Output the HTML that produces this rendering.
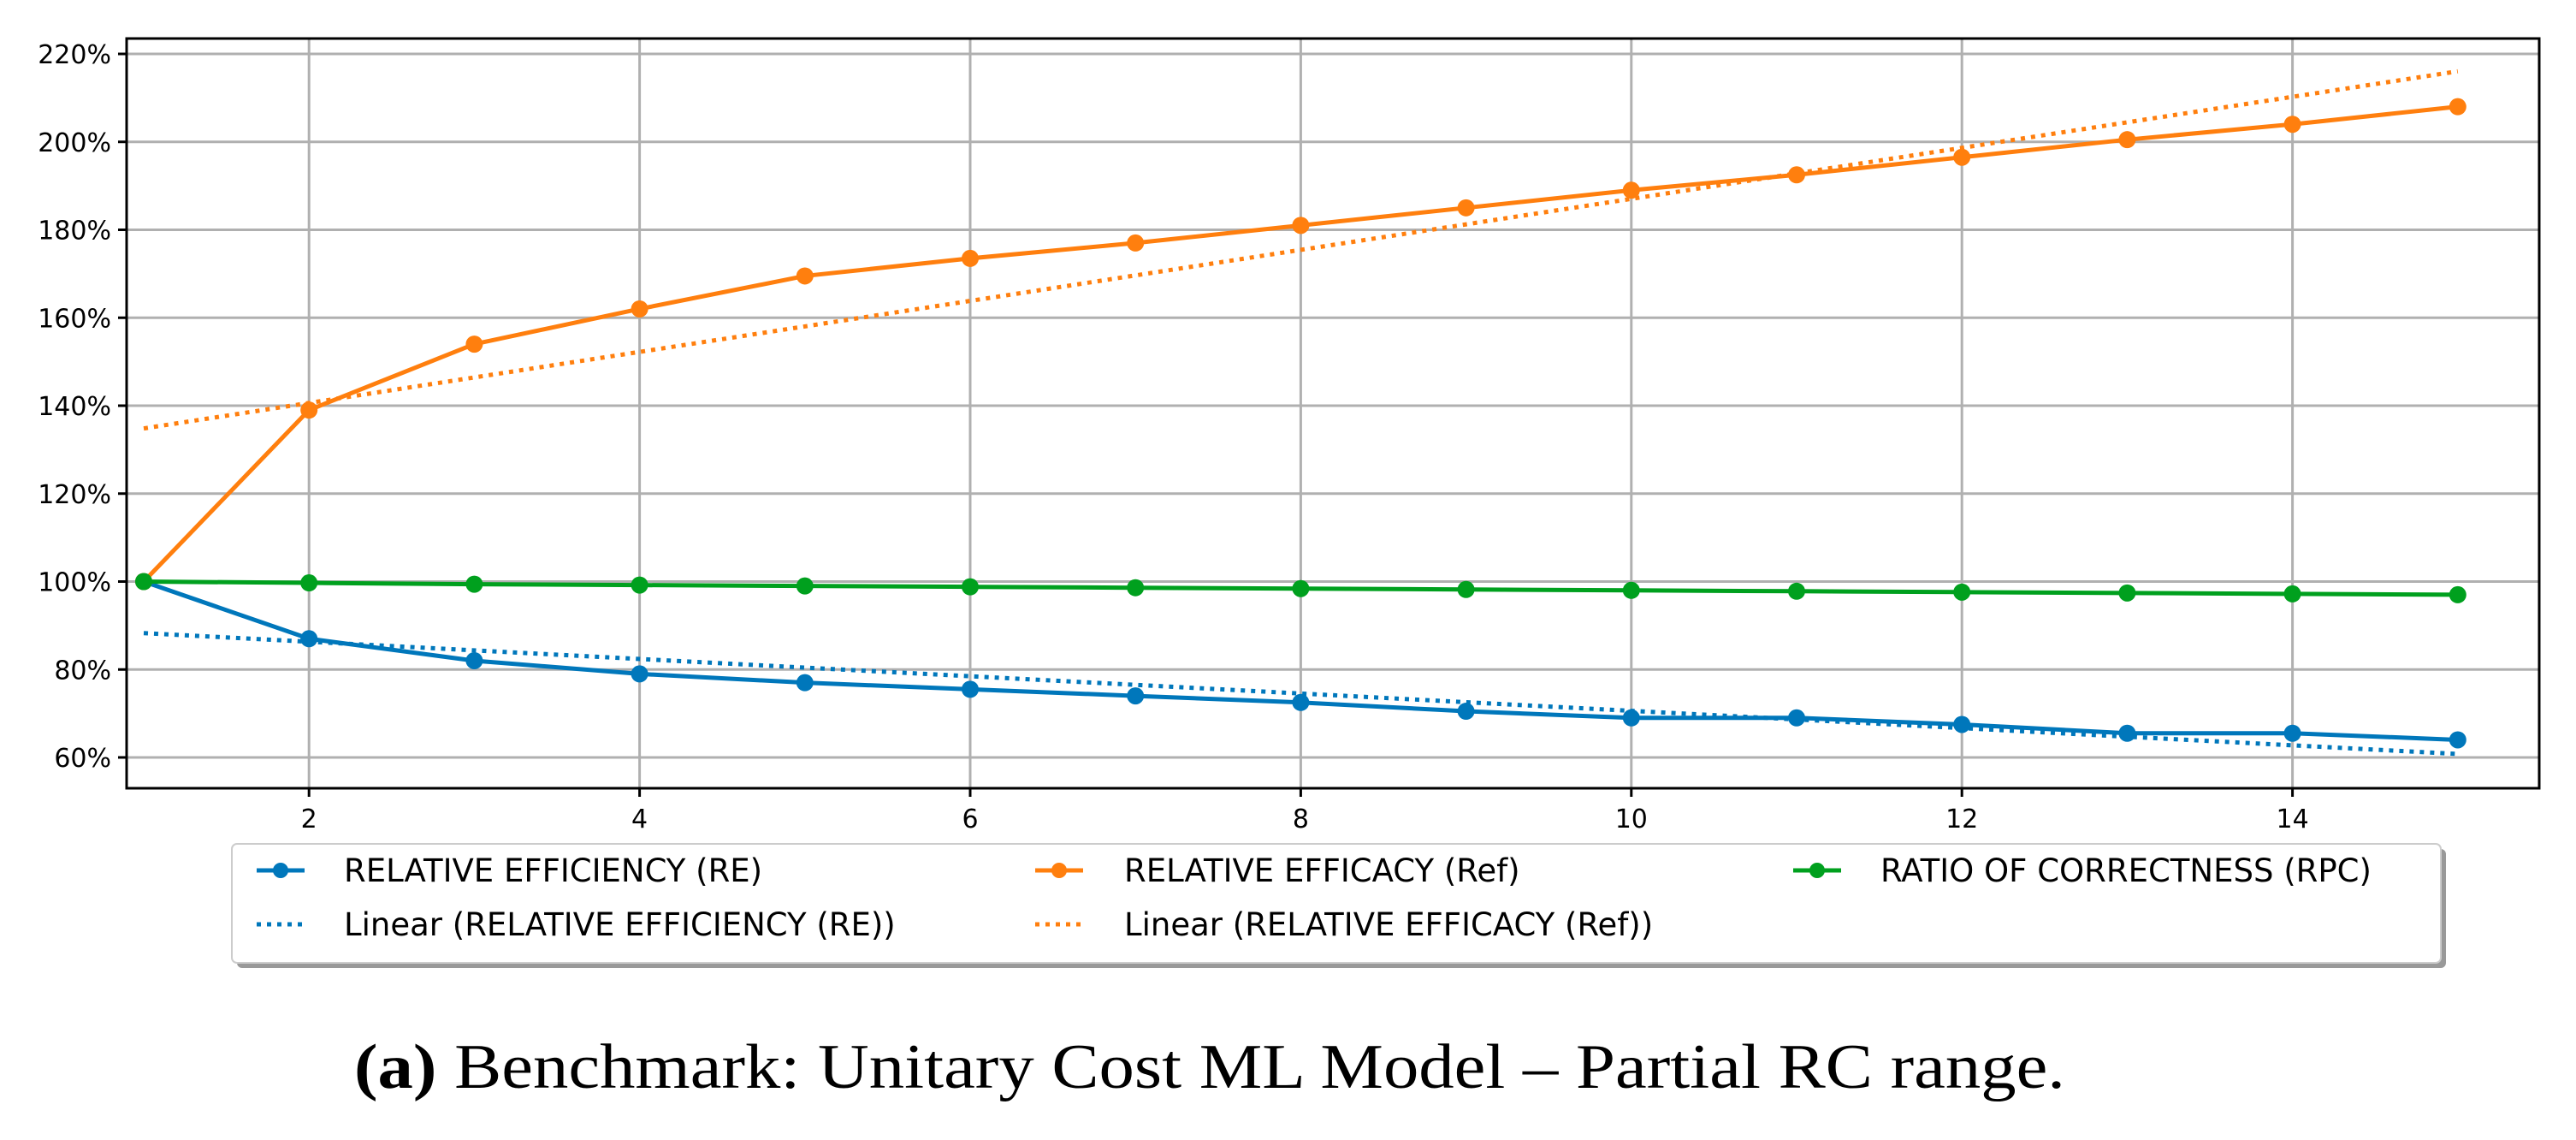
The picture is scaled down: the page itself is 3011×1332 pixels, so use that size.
<!DOCTYPE html>
<html><head><meta charset="utf-8"><style>
html,body{margin:0;padding:0;background:#fff;}
svg{display:block;}
</style></head><body>
<svg id="chart" width="3011" height="1332" viewBox="0 0 3011 1332" xmlns="http://www.w3.org/2000/svg">
<g id="grid"></g>
<g id="series"></g>
<rect x="148" y="45" width="2820" height="876" fill="none" stroke="#000" stroke-width="3"/>
<g id="ticks" font-family="DejaVu Sans, Liberation Sans, sans-serif" font-size="30" fill="#000"></g>
<g font-family="DejaVu Sans, Liberation Sans, sans-serif" font-size="37" fill="#000">
  <rect x="277" y="992" width="2582" height="139" rx="6" fill="#999"/>
  <rect x="271" y="986" width="2582" height="139" rx="6" fill="#fff" stroke="#ccc" stroke-width="2"/>
  <g>
    <line x1="300" y1="1017" x2="356" y2="1017" stroke="#0077bb" stroke-width="5"/><circle cx="328" cy="1017" r="9" fill="#0077bb"/>
    <text x="402" y="1030">RELATIVE EFFICIENCY (RE)</text></g>
  <g>
    <line x1="1210" y1="1017" x2="1266" y2="1017" stroke="#ff7f0e" stroke-width="5"/><circle cx="1238" cy="1017" r="9" fill="#ff7f0e"/>
    <text x="1314" y="1030">RELATIVE EFFICACY (Ref)</text></g>
  <g>
    <line x1="2096" y1="1017" x2="2152" y2="1017" stroke="#00a01e" stroke-width="5"/><circle cx="2124" cy="1017" r="9" fill="#00a01e"/>
    <text x="2198" y="1030">RATIO OF CORRECTNESS (RPC)</text></g>
  <g>
    <line x1="300" y1="1080" x2="356" y2="1080" stroke="#0077bb" stroke-width="5" stroke-dasharray="5 7"/>
    <text x="402" y="1093">Linear (RELATIVE EFFICIENCY (RE))</text></g>
  <g>
    <line x1="1210" y1="1080" x2="1266" y2="1080" stroke="#ff7f0e" stroke-width="5" stroke-dasharray="5 7"/>
    <text x="1314" y="1093">Linear (RELATIVE EFFICACY (Ref))</text></g>
</g>
<text x="414" y="1271" font-family="Liberation Serif, serif" font-size="74" textLength="2000" lengthAdjust="spacingAndGlyphs"><tspan font-weight="bold">(a)</tspan>   Benchmark: Unitary Cost ML Model – Partial RC range.</text>
</svg>
<script>
const xValues = [1,2,3,4,5,6,7,8,9,10,11,12,13,14,15];
const reValues = [100,87,82,79,77,75.5,74,72.5,70.5,69,69,67.5,65.5,65.5,64];
const refValues = [100,139,154,162,169.5,173.5,177,181,185,189,192.5,196.5,200.5,204,208];
const rpcValues = [100,99.7,99.4,99.2,99,98.8,98.6,98.4,98.2,98,97.8,97.6,97.4,97.2,97];
const yTicks = [60,80,100,120,140,160,180,200,220];
const xTicks = [2,4,6,8,10,12,14];

const NS='http://www.w3.org/2000/svg';
const X0=148,X1=2968,Y0=45,Y1=921;
function xs(v){return 168+(v-1)*193.2;}
function ys(v){return 679.5-(v-100)*5.1375;}
function mk(tag,attrs,parent){const e=document.createElementNS(NS,tag);for(const k in attrs)e.setAttribute(k,attrs[k]);parent.appendChild(e);return e;}
const grid=document.getElementById('grid'),ticks=document.getElementById('ticks'),series=document.getElementById('series');
yTicks.forEach(t=>{
  const y=ys(t);
  const g=mk('line',{x1:X0,x2:X1,y1:y,y2:y,stroke:'#b0b0b0','stroke-width':3},grid);
  
  
  mk('line',{x1:X0-10,x2:X0,y1:y,y2:y,stroke:'#000','stroke-width':3},ticks);
  const tx=mk('text',{x:X0-18,y:y+11,'text-anchor':'end'},ticks);
  tx.textContent=t+'%';
  
  
});
xTicks.forEach(t=>{
  const x=xs(t);
  const g=mk('line',{x1:x,x2:x,y1:Y0,y2:Y1,stroke:'#b0b0b0','stroke-width':3},grid);
  
  
  mk('line',{x1:x,x2:x,y1:Y1,y2:Y1+10,stroke:'#000','stroke-width':3},ticks);
  const tx=mk('text',{x:x,y:Y1+46,'text-anchor':'middle'},ticks);
  tx.textContent=t;
  
  
});
function fit(vals){const n=xValues.length;let sx=0,sy=0,sxx=0,sxy=0;xValues.forEach((x,i)=>{sx+=x;sy+=vals[i];sxx+=x*x;sxy+=x*vals[i];});const b=(n*sxy-sx*sy)/(n*sxx-sx*sx);return [b,(sy-b*sx)/n];}
function trend(vals,color,name){
  const [b,a]=fit(vals);const xa=xValues[0],xb=xValues[xValues.length-1];
  const l=mk('line',{x1:xs(xa),y1:ys(a+b*xa),x2:xs(xb),y2:ys(a+b*xb),stroke:color,'stroke-width':5,'stroke-dasharray':'5 7'},series);
  
  
}
function line(vals,color,name){
  const p=mk('polyline',{points:vals.map((v,i)=>xs(xValues[i])+','+ys(v)).join(' '),fill:'none',stroke:color,'stroke-width':5,'stroke-linejoin':'round'},series);
  
  
  vals.forEach((v,i)=>{
    const c=mk('circle',{cx:xs(xValues[i]),cy:ys(v),r:10,fill:color},series);
    
    
  });
}
trend(reValues,'#0077bb','re-trendline');
trend(refValues,'#ff7f0e','ref-trendline');
line(reValues,'#0077bb','re');
line(refValues,'#ff7f0e','ref');
line(rpcValues,'#00a01e','rpc');
</script>
</body></html>
